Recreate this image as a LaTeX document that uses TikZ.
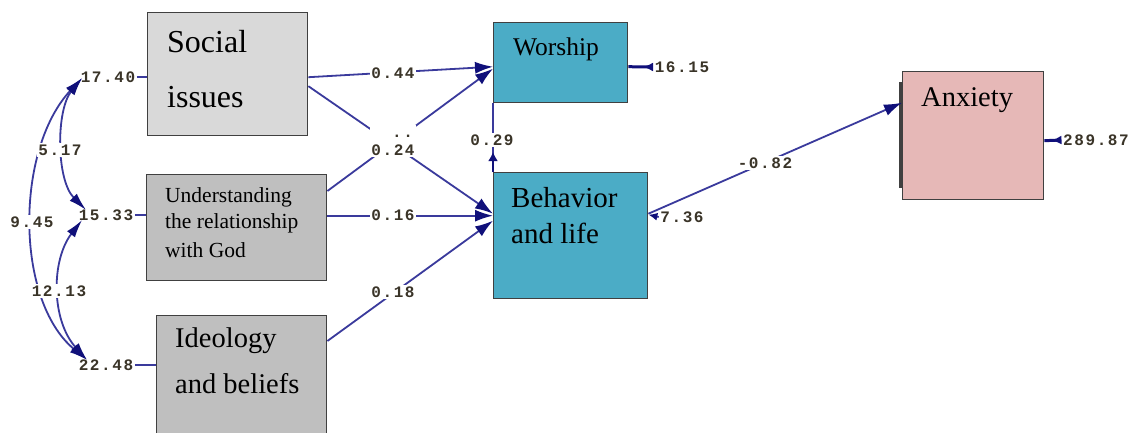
\documentclass[tikz,border=0pt]{standalone}
\usepackage{fontspec}
\setmainfont{Liberation Serif}
\newfontfamily\labfont[LetterSpace=10]{Liberation Mono}
\usetikzlibrary{arrows.meta,calc}
\definecolor{socc}{HTML}{D9D9D9}
\definecolor{gryc}{HTML}{BFBFBF}
\definecolor{tealc}{HTML}{4BACC6}
\definecolor{pinkc}{HTML}{E6B8B7}
\definecolor{pathc}{HTML}{3A3A9C}
\definecolor{headc}{HTML}{10107A}
\definecolor{labc}{HTML}{3A3428}
\definecolor{boxc}{HTML}{404040}
\tikzset{
  box/.style={draw=boxc, line width=1.4pt, inner sep=0pt, anchor=north west},
  txt/.style={anchor=base west, inner sep=0pt, text=black},
  lab/.style={fill=white, inner sep=1.5pt, text=labc, font=\labfont\bfseries\fontsize{16}{18}\selectfont},
  pth/.style={draw=pathc, line width=1.8pt},
  arr/.style={pth, -{Latex[length=18pt,width=12pt,color=headc]}},
  cov/.style={pth, {Latex[length=18pt,width=10pt,color=headc]}-{Latex[length=18pt,width=10pt,color=headc]}},
  errl/.style={draw=headc, line width=3pt, -{Latex[length=10pt,width=9pt,reversed]}}
}
\begin{document}
\begin{tikzpicture}[x=1pt,y=-1pt]
\useasboundingbox (0,0) rectangle (1131,432);
\fill[white] (0,0) rectangle (1131,432);

% boxes
\node[box, fill=socc, minimum width=160pt, minimum height=123pt] (soc) at (147,12) {};
\node[box, fill=gryc, minimum width=180pt, minimum height=106pt] (und) at (146,174) {};
\node[box, fill=gryc, minimum width=170pt, minimum height=125pt] (ide) at (156,315) {};
\node[box, fill=tealc, minimum width=134pt, minimum height=80pt] (wor) at (493,22) {};
\node[box, fill=tealc, minimum width=154pt, minimum height=126pt] (beh) at (493,172) {};
\node[box, fill=pinkc, minimum width=141pt, minimum height=128pt] (anx) at (902,71) {};
\draw[boxc, line width=2.2pt] ($(anx.north west)+(-1.5,11)$) -- ($(anx.south west)+(-1.5,-12)$);

% box texts
\node[txt, font=\fontsize{32}{32}\selectfont] (t1) at (167,52) {Social};
\node[txt, font=\fontsize{32}{32}\selectfont] (t2) at (167,107) {issues};
\node[txt, font=\fontsize{21.5}{21.5}\selectfont] (t3) at (165,202) {Understanding};
\node[txt, font=\fontsize{21.5}{21.5}\selectfont] (t4) at (165,228) {the relationship};
\node[txt, font=\fontsize{21.5}{21.5}\selectfont] (t5) at (165,257) {with God};
\node[txt, font=\fontsize{28.5}{28.5}\selectfont] (t6) at (175,347) {Ideology};
\node[txt, font=\fontsize{28.5}{28.5}\selectfont] (t7) at (175,393) {and beliefs};
\node[txt, font=\fontsize{25.5}{25.5}\selectfont] (t8) at (513,55) {Worship};
\node[txt, font=\fontsize{29}{29}\selectfont] (t9) at (511,207) {Behavior};
\node[txt, font=\fontsize{29}{29}\selectfont] (t10) at (511,243) {and life};
\node[txt, font=\fontsize{28.5}{28.5}\selectfont] (t11) at (921,106) {Anxiety};

% variance labels
\node[lab] (v1) at (108,77) {17.40};
\node[lab] (v2) at (106,215) {15.33};
\node[lab] (v3) at (106,365) {22.48};
\draw[pth] (v1.east) -- (soc.west |- v1.east);
\draw[pth] (v2.east) -- (und.west |- v2.east);
\draw[pth] (v3.east) -- (ide.west |- v3.east);

% paths
\draw[arr] ($(soc.east)+(0,3)$) -- ($(wor.west)+(0,4)$);
\draw[arr] ($(soc.east)+(0,12)$) -- ($(beh.west)+(0,-22)$);
\draw[arr] ($(und.north east)+(0,17)$) -- ($(wor.west)+(0,6)$);
\draw[arr] ($(und.east)+(0,-12)$) -- ($(beh.west)+(0,-20)$);
\draw[arr] ($(ide.north east)+(0,26)$) -- ($(beh.west)+(0,-15)$);
\draw[pth] (wor.south west) -- (beh.north west);
\draw[draw=headc, line width=2.8pt, -{Latex[length=9pt,width=10pt]}] (beh.north west) -- ++(0,-20);
\draw[arr] ($(beh.east)+(0,-22)$) -- ($(anx.west)+(0,-33)$);

% path labels
\node[lab] (p1) at (393,73) {0.44};
\node[lab, align=left] (p2) at (393,141) {\phantom{00}..\\0.24};
\node[lab] (p3) at (393,215) {0.16};
\node[lab] (p4) at (393,292) {0.18};
\node[lab] (p5) at (492,140) {0.29};
\node[lab] (p6) at (765,163) {-0.82};

% error terms
\node[lab] (e1) at (682,67) {16.15};
\node[lab] (e3) at (682,217) {7.36};
\node[lab] (e4) at (1096,140) {289.87};
\draw[errl] ($(wor.east)+(0,4)$) -- (e1.west);
\draw[errl] ($(anx.east)+(0,5)$) -- (e4.west);
\draw[pth, -{Latex[length=9pt,width=8pt,color=headc]}] (e3.west) -- ($(beh.east)+(0,-21)$);

% covariances
\draw[cov] ($(v1.west)+(3,1)$) .. controls (15,150) and (15,300) .. ($(v3.west)+(10,-5)$);
\draw[cov] ($(v1.west)+(3,1)$) .. controls (56,110) and (56,180) .. ($(v2.west)+(9,-5)$);
\draw[cov] ($(v2.west)+(5,5)$) .. controls (51,260) and (51,320) .. ($(v3.west)+(10,-5)$);
\node[lab] (c1) at (60,150) {5.17};
\node[lab] (c2) at (32,222) {9.45};
\node[lab] (c3) at (59,291) {12.13};
\end{tikzpicture}
\end{document}
